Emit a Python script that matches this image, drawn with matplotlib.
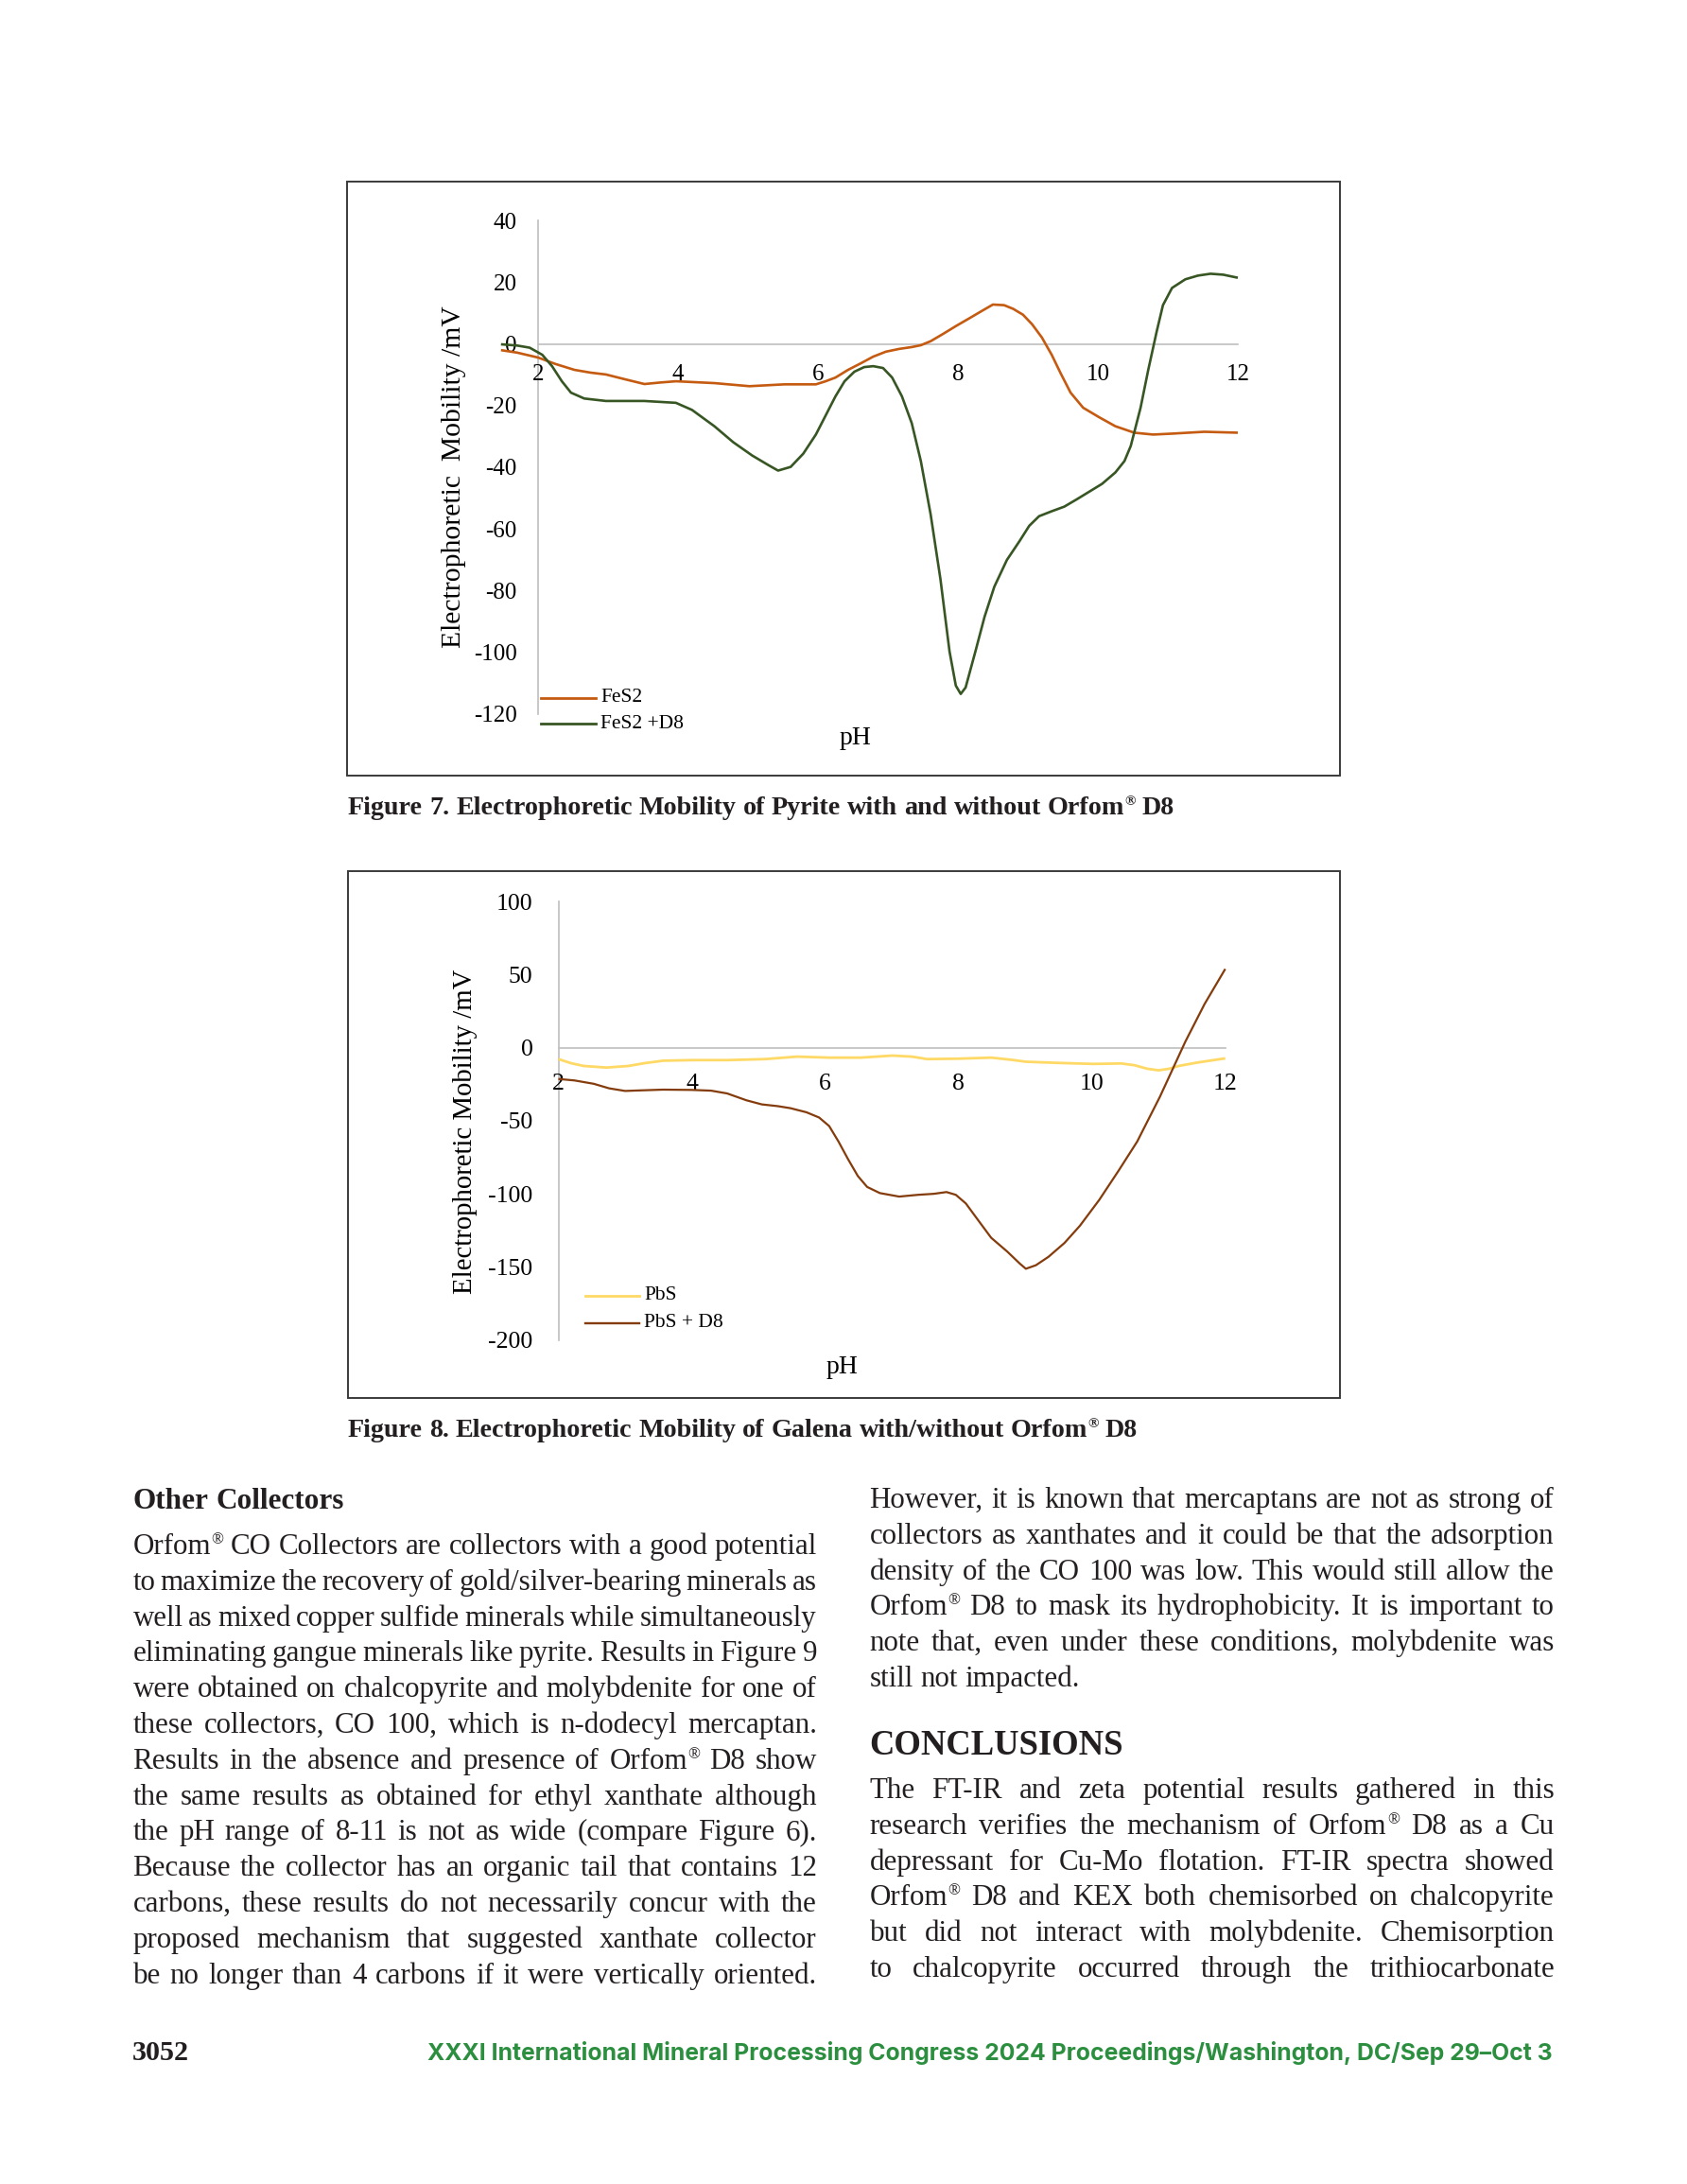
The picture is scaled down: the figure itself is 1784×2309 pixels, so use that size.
import matplotlib
matplotlib.use('Agg')
import matplotlib.pyplot as plt
from matplotlib.patches import Rectangle
from matplotlib.lines import Line2D

# ---------------- data ----------------
# Figure 7 - pyrite
ph_fes2 = [1.47, 1.70, 2.0, 2.25, 2.52, 2.75, 2.97, 3.25, 3.52, 3.75, 3.97, 4.52, 5.02, 5.52,
           5.97, 6.11, 6.25, 6.43, 6.61, 6.79, 6.97, 7.16, 7.34, 7.47, 7.61, 7.79, 7.97, 8.16,
           8.34, 8.50, 8.66, 8.79, 8.93, 9.06, 9.20, 9.34, 9.47, 9.61, 9.79, 10.02, 10.25,
           10.52, 10.79, 11.06, 11.52, 12.0]
mob_fes2 = [-2.0, -2.8, -4.4, -6.5, -8.4, -9.3, -9.9, -11.5, -13.0, -12.5, -12.1, -12.7, -13.7, -13.1,
            -13.1, -12.1, -10.9, -8.4, -6.3, -4.1, -2.5, -1.6, -1.0, -0.4, 0.9, 3.3, 5.8, 8.3,
            10.7, 12.8, 12.6, 11.4, 9.5, 6.4, 2.1, -3.5, -9.6, -15.8, -20.7, -23.8, -26.7,
            -28.8, -29.4, -29.1, -28.5, -28.8]

ph_fes2_d8 = [1.47, 1.70, 1.88, 2.06, 2.20, 2.34, 2.47, 2.66, 2.97, 3.52, 3.97, 4.20, 4.52, 4.79,
              5.06, 5.29, 5.43, 5.61, 5.79, 5.97, 6.11, 6.25, 6.38, 6.52, 6.66, 6.79, 6.93, 7.06,
              7.20, 7.34, 7.47, 7.61, 7.75, 7.88, 7.97, 8.04, 8.11, 8.25, 8.38, 8.52, 8.70, 8.88,
              9.02, 9.16, 9.34, 9.52, 9.70, 9.88, 10.06, 10.25, 10.38, 10.47, 10.61, 10.72, 10.84,
              10.93, 11.06, 11.25, 11.43, 11.61, 11.79, 12.0]
mob_fes2_d8 = [-0.1, -0.5, -1.2, -3.5, -7.2, -12.1, -15.8, -17.7, -18.5, -18.5, -19.1, -21.4, -26.7, -31.9,
               -36.2, -39.3, -41.1, -39.9, -35.6, -29.4, -23.2, -17.0, -12.1, -9.0, -7.5, -7.2, -7.8, -10.9,
               -17.0, -25.7, -38.0, -55.3, -76.3, -99.8, -110.9, -113.6, -111.5, -99.8, -88.6, -78.8, -70.1, -64.0,
               -59.0, -55.9, -54.3, -52.8, -50.4, -47.9, -45.4, -41.7, -38.0, -33.1, -20.7, -8.4, 4.0,
               12.6, 18.2, 21.0, 22.2, 22.8, 22.5, 21.5]

# Figure 8 - galena
ph_pbs = [2.0, 2.19, 2.38, 2.72, 3.05, 3.29, 3.57, 4.0, 4.53, 5.10, 5.58, 6.06, 6.53, 7.01, 7.30,
          7.53, 8.01, 8.49, 8.78, 9.01, 9.49, 10.02, 10.44, 10.64, 10.83, 11.0, 11.16, 11.30,
          11.59, 12.0]
mob_pbs = [-7.8, -10.6, -12.5, -13.6, -12.5, -10.6, -8.9, -8.5, -8.5, -7.8, -6.1, -6.8, -6.8, -5.4, -6.1,
           -7.8, -7.5, -6.8, -8.2, -9.6, -10.4, -11.1, -10.8, -12.0, -14.4, -15.5, -14.4, -12.5,
           -10.1, -7.3]

ph_pbs_d8 = [2.0, 2.24, 2.53, 2.76, 3.0, 3.24, 3.57, 4.0, 4.29, 4.53, 4.82, 5.05, 5.29, 5.48, 5.72,
             5.91, 6.06, 6.20, 6.34, 6.49, 6.63, 6.82, 7.11, 7.39, 7.63, 7.82, 7.96, 8.11, 8.30,
             8.49, 8.73, 8.92, 9.01, 9.16, 9.35, 9.59, 9.82, 10.11, 10.40, 10.68, 11.02, 11.40,
             11.69, 12.0]
mob_pbs_d8 = [-21.4, -22.4, -24.7, -27.8, -29.6, -29.2, -28.7, -28.9, -29.4, -31.3, -36.0, -38.8, -40.0,
              -41.4, -44.2, -47.8, -53.6, -64.2, -76.0, -87.8, -95.3, -99.5, -101.9, -100.7, -100.0,
              -98.8, -100.7, -106.6, -118.4, -130.1, -139.5, -147.8, -151.3, -148.9, -143.1, -133.6,
              -121.9, -104.2, -84.2, -64.2, -33.6, 4.0, 29.9, 53.9]

fig7_yticks = [-120, -100, -80, -60, -40, -20, 0, 20, 40]
fig8_yticks = [-200, -150, -100, -50, 0, 50, 100]
ph_ticks = [2, 4, 6, 8, 10, 12]

fig7_labels = ['FeS2', 'FeS2 +D8']
fig8_labels = ['PbS', 'PbS + D8']

caption7 = 'Figure 7. Electrophoretic Mobility of Pyrite with and without Orfom® D8'
caption8 = 'Figure 8. Electrophoretic Mobility of Galena with/without Orfom® D8'

left_heading = 'Other Collectors'
left_lines = [
    'Orfom® CO Collectors are collectors with a good potential',
    'to maximize the recovery of gold/silver-bearing minerals as',
    'well as mixed copper sulfide minerals while simultaneously',
    'eliminating gangue minerals like pyrite. Results in Figure 9',
    'were obtained on chalcopyrite and molybdenite for one of',
    'these collectors, CO 100, which is n-dodecyl mercaptan.',
    'Results in the absence and presence of Orfom® D8 show',
    'the same results as obtained for ethyl xanthate although',
    'the pH range of 8-11 is not as wide (compare Figure 6).',
    'Because the collector has an organic tail that contains 12',
    'carbons, these results do not necessarily concur with the',
    'proposed mechanism that suggested xanthate collector',
    'be no longer than 4 carbons if it were vertically oriented.',
]
right_lines_a = [
    'However, it is known that mercaptans are not as strong of',
    'collectors as xanthates and it could be that the adsorption',
    'density of the CO 100 was low. This would still allow the',
    'Orfom® D8 to mask its hydrophobicity. It is important to',
    'note that, even under these conditions, molybdenite was',
    'still not impacted.',
]
right_heading = 'CONCLUSIONS'
right_lines_b = [
    'The FT-IR and zeta potential results gathered in this',
    'research verifies the mechanism of Orfom® D8 as a Cu',
    'depressant for Cu-Mo flotation. FT-IR spectra showed',
    'Orfom® D8 and KEX both chemisorbed on chalcopyrite',
    'but did not interact with molybdenite. Chemisorption',
    'to chalcopyrite occurred through the trithiocarbonate',
]
page_number = '3052'
footer_text = 'XXXI International Mineral Processing Congress 2024 Proceedings/Washington, DC/Sep 29–Oct 3'

# ---------------- page setup ----------------
W, H = 1784, 2309
fig = plt.figure(figsize=(W / 100, H / 100), dpi=100)
fig.patch.set_facecolor('white')
renderer = fig.canvas.get_renderer()
SERIF = 'Liberation Serif'
INK = '#231f20'
PX = 100 / 72.0  # pixels per point


def fx(px):
    return px / W


def fy(py):
    return 1 - py / H


def add_axes_px(x0, y0, x1, y1):
    return fig.add_axes([fx(x0), fy(y1), (x1 - x0) / W, (y1 - y0) / H])


def frame(x0, y0, x1, y1):
    fig.add_artist(Rectangle((fx(x0), fy(y1)), (x1 - x0) / W, (y1 - y0) / H,
                             transform=fig.transFigure, fill=False,
                             ec='#3a3a3a', lw=1.4))


_wcache = {}


def measure(s, size, weight='normal', family=SERIF):
    key = (s, round(size, 3), weight, family)
    if key not in _wcache:
        t = fig.text(0, 0, s, fontsize=size, family=family, weight=weight)
        _wcache[key] = t.get_window_extent(renderer).width
        t.remove()
    return _wcache[key]


def seg_list(word):
    if '®' in word:
        i = word.index('®')
        segs = []
        if word[:i]:
            segs.append((word[:i], 1.0, 0.0))
        segs.append(('®', 0.55, 0.36))
        if word[i + 1:]:
            segs.append((word[i + 1:], 1.0, 0.0))
        return segs
    return [(word, 1.0, 0.0)]


def word_width(word, size, weight):
    return sum(measure(t, size * sc, weight) for t, sc, r in seg_list(word))


def draw_word(word, x, yb, size, weight, color):
    for t, sc, r in seg_list(word):
        fig.text(fx(x), fy(yb - r * size * PX), t, fontsize=size * sc, family=SERIF,
                 weight=weight, color=color, va='baseline', ha='left')
        x += measure(t, size * sc, weight)


def space_w(size, weight='normal'):
    return measure('n n', size, weight) - measure('nn', size, weight)


def natural_width(text, size, weight='normal'):
    words = text.split()
    return sum(word_width(w, size, weight) for w in words) + space_w(size, weight) * (len(words) - 1)


def draw_line(text, x0, x1, yb, size, weight='normal', justify=True, color=INK, min_gap=0.65):
    words = text.split()
    ws = [word_width(w, size, weight) for w in words]
    sp = space_w(size, weight)
    if justify and len(words) > 1:
        gap = (x1 - x0 - sum(ws)) / (len(words) - 1)
        if gap < min_gap * sp:
            size = size * (x1 - x0) / (sum(ws) + min_gap * sp * (len(words) - 1))
            ws = [word_width(w, size, weight) for w in words]
            gap = (x1 - x0 - sum(ws)) / (len(words) - 1)
    else:
        gap = sp
    x = x0
    for w, wd in zip(words, ws):
        draw_word(w, x, yb, size, weight, color)
        x += wd + gap


def fit_size(text, target, base=20, weight='normal'):
    return base * target / natural_width(text, base, weight)


# ---------------- charts ----------------
def chart(axbox, ylim, yticks, series, tick_size, xpad, ypad):
    ax = add_axes_px(*axbox)
    ax.set_xlim(2, 12)
    ax.set_ylim(*ylim)
    ax.patch.set_alpha(0)
    for s in ['top', 'right']:
        ax.spines[s].set_visible(False)
    for s in ['left', 'bottom']:
        ax.spines[s].set_color('#bfbfbf')
        ax.spines[s].set_linewidth(1.2)
        ax.spines[s].set_zorder(1)
    ax.spines['bottom'].set_position(('data', 0))
    ax.set_xticks(ph_ticks)
    ax.set_xticklabels([str(v) for v in ph_ticks], family=SERIF, fontsize=tick_size, color='black')
    ax.set_yticks(yticks)
    ax.set_yticklabels([str(v) for v in yticks], family=SERIF, fontsize=tick_size, color='black')
    ax.tick_params(length=0)
    ax.tick_params(axis='x', pad=xpad)
    ax.tick_params(axis='y', pad=ypad)
    for xs, ys, col, lw in series:
        ax.plot(xs, ys, color=col, lw=lw, clip_on=False, zorder=3,
                solid_capstyle='butt', solid_joinstyle='round')
    return ax


C_FES2 = '#c55a11'
C_FES2D8 = '#375623'
C_PBS = '#ffd966'
C_PBSD8 = '#843c0c'

# Figure 7
frame(367, 192, 1417, 820)
chart((569, 233.4, 1309, 754.5), (-120, 40), fig7_yticks,
      [(ph_fes2, mob_fes2, C_FES2, 1.9), (ph_fes2_d8, mob_fes2_d8, C_FES2D8, 1.9)],
      18, 15, 16)

ylab1 = 'Electrophoretic  Mobility /mV'
s1 = fit_size(ylab1, 354)
fig.text(fx(480), fy(504), ylab1, rotation=90, ha='center', va='center',
         family=SERIF, fontsize=s1, color='black')
fig.text(fx(905), fy(781), 'pH', ha='center', va='center', family=SERIF, fontsize=20, color='black')
for yy, col, lab in [(738, C_FES2, fig7_labels[0]), (765, C_FES2D8, fig7_labels[1])]:
    fig.add_artist(Line2D([fx(572), fx(630)], [fy(yy), fy(yy)], transform=fig.transFigure,
                          color=col, lw=2.0))
    fig.text(fx(635), fy(yy), lab, ha='left', va='center', family=SERIF, fontsize=15.5, color='black')

# Figure 8
frame(368, 921, 1417, 1478)
chart((590.5, 953.2, 1295.7, 1416.6), (-200, 100), fig8_yticks,
      [(ph_pbs, mob_pbs, C_PBS, 2.0), (ph_pbs_d8, mob_pbs_d8, C_PBSD8, 1.6)],
      18.5, 20, 19.5)

ylab2 = 'Electrophoretic Mobility /mV'
s2 = fit_size(ylab2, 343)
fig.text(fx(492), fy(1196), ylab2, rotation=90, ha='center', va='center',
         family=SERIF, fontsize=s2, color='black')
fig.text(fx(891), fy(1446), 'pH', ha='center', va='center', family=SERIF, fontsize=20, color='black')
for yy, col, lab in [(1370, C_PBS, fig8_labels[0]), (1398.5, C_PBSD8, fig8_labels[1])]:
    fig.add_artist(Line2D([fx(619), fx(676)], [fy(yy), fy(yy)], transform=fig.transFigure,
                          color=col, lw=2.0 if col == C_PBS else 1.7))
    fig.text(fx(681), fy(yy), lab, ha='left', va='center', family=SERIF, fontsize=15.5, color='black')

# captions
cap_size = fit_size(caption7, 874, weight='bold')
draw_line(caption7, 368, 1242, 861, cap_size, weight='bold', justify=False)
draw_line(caption8, 368, 1205, 1519, cap_size, weight='bold', justify=False)

# ---------------- body text ----------------
LX0, LX1 = 140.5, 864
RX0, RX1 = 919.5, 1644
LEAD = 37.8

just_lines = left_lines + right_lines_a[:-1] + right_lines_b
fits = sorted(fit_size(t, LX1 - LX0) for t in just_lines)
body_size = fits[len(fits) // 2] * 0.965

h1 = fit_size(left_heading, 223, weight='bold')
draw_line(left_heading, LX0, LX1, 1595, h1, weight='bold', justify=False)
for i, t in enumerate(left_lines):
    draw_line(t, LX0, LX1, 1643 + LEAD * i, body_size, justify=True)

for i, t in enumerate(right_lines_a):
    draw_line(t, RX0, RX1, 1594 + LEAD * i, body_size, justify=(i < len(right_lines_a) - 1))

h2 = fit_size(right_heading, 268, weight='bold')
draw_line(right_heading, RX0, RX1, 1855, h2, weight='bold', justify=False)
for i, t in enumerate(right_lines_b):
    draw_line(t, RX0, RX1, 1901 + LEAD * i, body_size, justify=True)

# ---------------- footer ----------------
pn = fit_size(page_number, 60, weight='bold')
draw_line(page_number, 140, 200, 2178, pn, weight='bold', justify=False)
ft_base = 20
ft_w = measure(footer_text, ft_base, 'bold', 'Inter')
ft_size = ft_base * 1192 / ft_w
fig.text(fx(452), fy(2178), footer_text, ha='left', va='baseline', family='Inter',
         weight='bold', fontsize=ft_size, color='#2b8f3f')

fig.savefig('out.png', dpi=100, facecolor='white')
